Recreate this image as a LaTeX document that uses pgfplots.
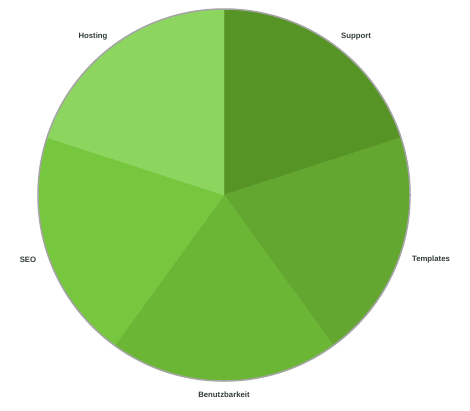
\documentclass[border=0pt]{standalone}
\usepackage{pgfplots}
\pgfplotsset{compat=1.18}
\usepackage{pgfplotstable}
\usepackage{fontspec}
\setmainfont{Liberation Sans}

% slice colours, darkest first (clockwise from 12 o'clock)
\definecolor{c0}{RGB}{86,148,38}
\definecolor{c1}{RGB}{99,166,48}
\definecolor{c2}{RGB}{108,182,54}
\definecolor{c3}{RGB}{118,198,62}
\definecolor{c4}{RGB}{140,214,96}
\definecolor{labelc}{RGB}{48,60,56}
\definecolor{rimc}{RGB}{165,165,165}

% share of each category and where its label sits
\pgfplotstableread{
name value lx ly
Support 20 356 373.5
Templates 20 431 150.5
Benutzbarkeit 20 224 15.5
SEO 20 28 150.5
Hosting 20 93 373.5
}\piedata

\begin{document}
\begin{tikzpicture}
\begin{axis}[
  width=470bp, height=410bp, scale only axis,
  xmin=0, xmax=470, ymin=0, ymax=410,
  hide axis, clip=false,
]
\path (axis cs:0,0) rectangle (axis cs:470,410);
\pgfplotstablegetrowsof{\piedata}
\pgfmathtruncatemacro\lastrow{\pgfplotsretval-1}
% total of all shares
\def\total{0}
\pgfplotsforeachungrouped \i in {0,...,\lastrow}{%
  \pgfplotstablegetelem{\i}{value}\of\piedata
  \pgfmathsetmacro\total{\total+\pgfplotsretval}%
}
% one wedge per category, clockwise from the top
\def\cum{0}
\pgfplotsforeachungrouped \i in {0,...,\lastrow}{%
  \pgfplotstablegetelem{\i}{value}\of\piedata
  \pgfmathsetmacro\astart{90-\cum/\total*360}%
  \pgfmathsetmacro\cum{\cum+\pgfplotsretval}%
  \pgfmathsetmacro\aend{90-\cum/\total*360}%
  \edef\cmd{\noexpand\addplot[draw=c\i, line width=0.3bp, fill=c\i, domain=\aend:\astart, samples=90]
    ({224+186*cos(x)},{215+186*sin(x)}) -- (axis cs:224,215) -- cycle;}%
  \cmd
}
% category names
\pgfplotsforeachungrouped \i in {0,...,\lastrow}{%
  \pgfplotstablegetelem{\i}{name}\of\piedata \let\nm\pgfplotsretval
  \pgfplotstablegetelem{\i}{lx}\of\piedata \let\lx\pgfplotsretval
  \pgfplotstablegetelem{\i}{ly}\of\piedata \let\ly\pgfplotsretval
  \edef\cmd{\noexpand\node[font=\noexpand\bfseries\noexpand\fontsize{7.8}{9}\noexpand\selectfont, text=labelc]
    at (axis cs:\lx,\ly) {\nm};}%
  \cmd
}
\draw[rimc, line width=1.5bp] (axis cs:224,215) circle[radius=186bp];
\end{axis}
\end{tikzpicture}
\end{document}
